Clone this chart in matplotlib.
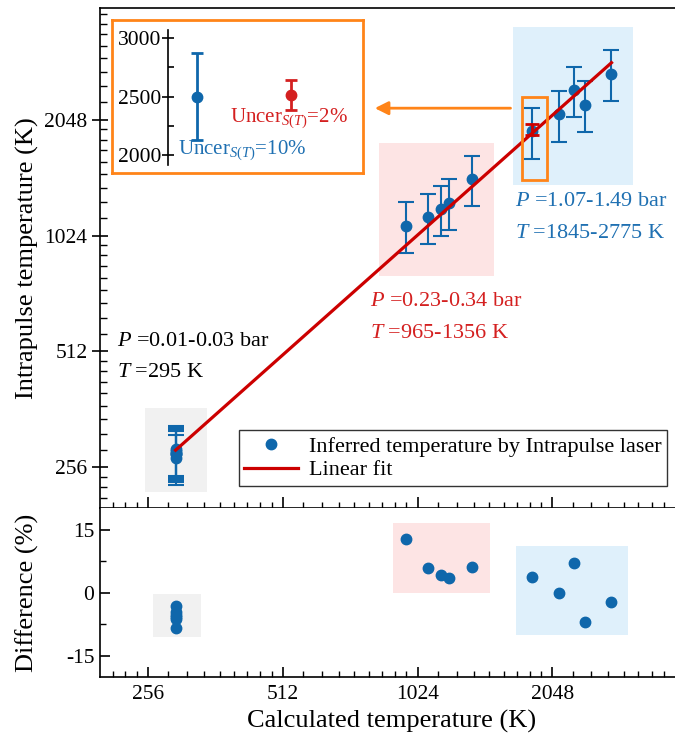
import numpy as np
import matplotlib
matplotlib.use("Agg")
import matplotlib.pyplot as plt
from matplotlib.patches import Rectangle
from matplotlib.lines import Line2D
from matplotlib.ticker import FixedLocator, NullFormatter

plt.rcParams['font.family'] = ['Liberation Serif', 'DejaVu Serif']
plt.rcParams['mathtext.fontset'] = 'custom'
plt.rcParams['mathtext.rm'] = 'Liberation Serif'
plt.rcParams['mathtext.it'] = 'Liberation Serif:italic'
plt.rcParams['axes.unicode_minus'] = False

# calculated temperature (K) and inferred temperature (K) per group
calc_gray = [295, 295, 295, 295, 295, 295]
infer_gray = [285.6, 281.7, 279.4, 277.6, 276.4, 270.5]
diff_gray = [-3.2, -4.5, -5.3, -5.9, -6.3, -8.3]

calc_red = [965, 1082, 1152, 1205, 1356]
infer_red = [1087, 1145, 1200, 1248, 1436]
diff_red = [12.7, 5.9, 4.1, 3.4, 6.1]

calc_blue = [1845, 2124, 2294, 2419, 2775]
infer_blue = [1910, 2115, 2449, 2243, 2700]
diff_blue = [3.6, 0.0, 7.0, -6.9, -2.3]

err_frac = 0.15          # error bar half-height, fraction of value
red_check_T = 1845       # point checked with 2 % uncertainty
red_check_val = 1935
red_check_err = 68

# inset values
inset_x = [0.15, 0.64]
inset_y = [2500, 2515]
inset_err = [370, 128]

BLUE = '#0f67ab'
BLUE_TXT = '#1f70b2'
RED = '#cc0000'
RED_TXT = '#d42020'
ORANGE = '#ff8418'
GRAY_BG = '#f1f1f1'
RED_BG = '#fde4e4'
BLUE_BG = '#dff0fb'


def log2_minor(lo, hi):
    ticks = []
    for k in range(6, 13):
        base = 2 ** k
        for j in range(1, 9):
            v = base * (1 + j / 9)
            if lo <= v <= hi:
                ticks.append(v)
    return ticks


fig = plt.figure(figsize=(6.75, 7.45), dpi=100)
ax = fig.add_axes([0.14815, 0.31745, 0.86311, 0.67181])
ax2 = fig.add_axes([0.14815, 0.09168, 0.86311, 0.22577])

# ---------------- top panel ----------------
for a in (ax, ax2):
    a.set_xscale('log', base=2)
    a.set_xlim(200, 4000)
    a.xaxis.set_major_locator(FixedLocator([256, 512, 1024, 2048]))
    a.xaxis.set_minor_locator(FixedLocator(log2_minor(200, 4000)))
    a.xaxis.set_minor_formatter(NullFormatter())
    for s in a.spines.values():
        s.set_linewidth(1.2)
    a.spines['right'].set_visible(False)

ax.set_yscale('log', base=2)
ax.set_ylim(200, 4000)
ax.yaxis.set_major_locator(FixedLocator([256, 512, 1024, 2048]))
ax.yaxis.set_minor_locator(FixedLocator(log2_minor(200, 4000)))
ax.yaxis.set_minor_formatter(NullFormatter())
ax.set_yticklabels(['256', '512', '1024', '2048'])
ax.set_xticklabels([])

# shaded groups
ax.add_patch(Rectangle((252, 221), 347 - 252, 364 - 221, color=GRAY_BG, zorder=0, lw=0))
ax.add_patch(Rectangle((841, 804), 1519 - 841, 1782 - 804, color=RED_BG, zorder=0, lw=0))
ax.add_patch(Rectangle((1670, 1389), 3100 - 1670, 3564 - 1389, color=BLUE_BG, zorder=0, lw=0))

calc_all = np.array(calc_gray + calc_red + calc_blue, dtype=float)
infer_all = np.array(infer_gray + infer_red + infer_blue, dtype=float)

ax.errorbar(calc_all, infer_all, yerr=err_frac * infer_all, fmt='o', color=BLUE,
            ms=7.5, elinewidth=1.5, capsize=5.5, capthick=1.5, zorder=3)

# fit (straight line on the log-log axes)
coef = np.polyfit(np.log(calc_all), np.log(infer_all), 1)
xf = np.array([calc_all.min(), calc_all.max()])
ax.plot(xf, np.exp(np.polyval(coef, np.log(xf))), color=RED, lw=2.3, zorder=4)

# 2 % uncertainty point
ax.errorbar([red_check_T], [red_check_val], yerr=[red_check_err], fmt='none',
            ecolor=RED, elinewidth=2, capsize=5, capthick=2, zorder=5)
ax.add_patch(Rectangle((1749, 1433), 1991 - 1749, 2352 - 1433, fill=False,
                       ec=ORANGE, lw=2, zorder=6))
ax.annotate('', xy=(810, 2196), xytext=(1675, 2196),
            arrowprops=dict(arrowstyle='-|>', color=ORANGE, lw=2, mutation_scale=20),
            zorder=6)

fs_ann = 16
ax.text(0.029, 0.333, r'$P$ =0.01-0.03 bar', transform=ax.transAxes, fontsize=fs_ann, va='center')
ax.text(0.029, 0.271, r'$T$ =295 K', transform=ax.transAxes, fontsize=fs_ann, va='center')
ax.text(0.463, 0.413, r'$P$ =0.23-0.34 bar', transform=ax.transAxes, fontsize=fs_ann,
        va='center', color=RED_TXT)
ax.text(0.463, 0.350, r'$T$ =965-1356 K', transform=ax.transAxes, fontsize=fs_ann,
        va='center', color=RED_TXT)
ax.text(0.712, 0.613, r'$P$ =1.07-1.49 bar', transform=ax.transAxes, fontsize=fs_ann,
        va='center', color=BLUE_TXT)
ax.text(0.712, 0.550, r'$T$ =1845-2775 K', transform=ax.transAxes, fontsize=fs_ann,
        va='center', color=BLUE_TXT)

handles = [Line2D([], [], ls='none', marker='o', color=BLUE, ms=7.5),
           Line2D([], [], color=RED, lw=2.3)]
labels = ['Inferred temperature by Intrapulse laser', 'Linear fit']
leg = ax.legend(handles, labels, loc='lower right', bbox_to_anchor=(0.973, 0.045), fontsize=16,
                frameon=True, fancybox=False, edgecolor='black', borderaxespad=0,
                handlelength=2.4, handletextpad=0.5, borderpad=0.25, labelspacing=0.15)
leg.get_frame().set_linewidth(1.0)
leg.set_zorder(7)

ax.set_ylabel('Intrapulse temperature (K)', fontsize=19)
ax.yaxis.set_label_coords(-0.104, 0.5)
ax.tick_params(axis='y', which='major', direction='inout', length=12, width=1.2, labelsize=15.5, pad=3)
ax.tick_params(axis='y', which='minor', direction='in', length=5, width=1.0)
ax.tick_params(axis='x', which='major', direction='in', length=8, width=1.2)
ax.tick_params(axis='x', which='minor', direction='in', length=4, width=1.0)

# ---------------- bottom panel ----------------
ax2.set_ylim(-20, 20)
ax2.yaxis.set_major_locator(FixedLocator([-15, 0, 15]))
ax2.yaxis.set_minor_locator(FixedLocator([-7.5, 7.5]))
ax2.set_xticklabels(['256', '512', '1024', '2048'])
ax2.spines['top'].set_visible(False)

ax2.add_patch(Rectangle((262, -10.6), 336 - 262, 10.2, color=GRAY_BG, zorder=0, lw=0))
ax2.add_patch(Rectangle((900, 0), 1489 - 900, 16.5, color=RED_BG, zorder=0, lw=0))
ax2.add_patch(Rectangle((1695, -10.0), 3015 - 1695, 21.1, color=BLUE_BG, zorder=0, lw=0))

ax2.plot(calc_gray + calc_red + calc_blue, diff_gray + diff_red + diff_blue, 'o',
         color=BLUE, ms=7.5, zorder=3)

ax2.set_ylabel('Difference (%)', fontsize=19)
ax2.yaxis.set_label_coords(-0.104, 0.5)
ax2.set_xlabel('Calculated temperature (K)', fontsize=19)
ax2.tick_params(axis='both', which='major', direction='in', length=7, width=1.2, labelsize=15.5, pad=6)
ax2.tick_params(axis='both', which='minor', direction='in', length=4, width=1.0)
ax2.tick_params(axis='y', which='major', pad=4)

# ---------------- inset ----------------
frame = fig.add_axes([0.16548, 0.76738, 0.37274, 0.20577])
frame.set_xticks([])
frame.set_yticks([])
for s in frame.spines.values():
    s.set_color(ORANGE)
    s.set_linewidth(2)
frame.set_zorder(8)

ins = fig.add_axes([0.24933, 0.77852, 0.28444, 0.18121])
ins.set_zorder(9)
ins.patch.set_alpha(0)
ins.set_xlim(0, 1)
ins.set_ylim(1914, 3071)
for k in ('top', 'right', 'bottom'):
    ins.spines[k].set_visible(False)
ins.spines['left'].set_linewidth(1.2)
ins.set_xticks([])
ins.yaxis.set_major_locator(FixedLocator([2000, 2500, 3000]))
ins.yaxis.set_minor_locator(FixedLocator([2250, 2750]))
ins.tick_params(axis='y', which='major', direction='inout', length=8, width=1.2, labelsize=15.5, pad=1)
ins.tick_params(axis='y', which='minor', direction='in', length=4, width=1.2)
ins.errorbar([inset_x[0]], [inset_y[0]], yerr=[inset_err[0]], fmt='o', color=BLUE,
             ms=7.5, elinewidth=2, capsize=4, capthick=2)
ins.errorbar([inset_x[1]], [inset_y[1]], yerr=[inset_err[1]], fmt='o', color=RED_TXT,
             ms=7.5, elinewidth=2, capsize=4, capthick=2)
ins.text(0.05, 2043, r'Uncer$_{\mathit{S(T)}}$=10%', color=BLUE_TXT, fontsize=15, va='center')
ins.text(0.32, 2314, r'Uncer$_{\mathit{S(T)}}$=2%', color=RED_TXT, fontsize=15, va='center')

fig.savefig('out.png', dpi=100)
